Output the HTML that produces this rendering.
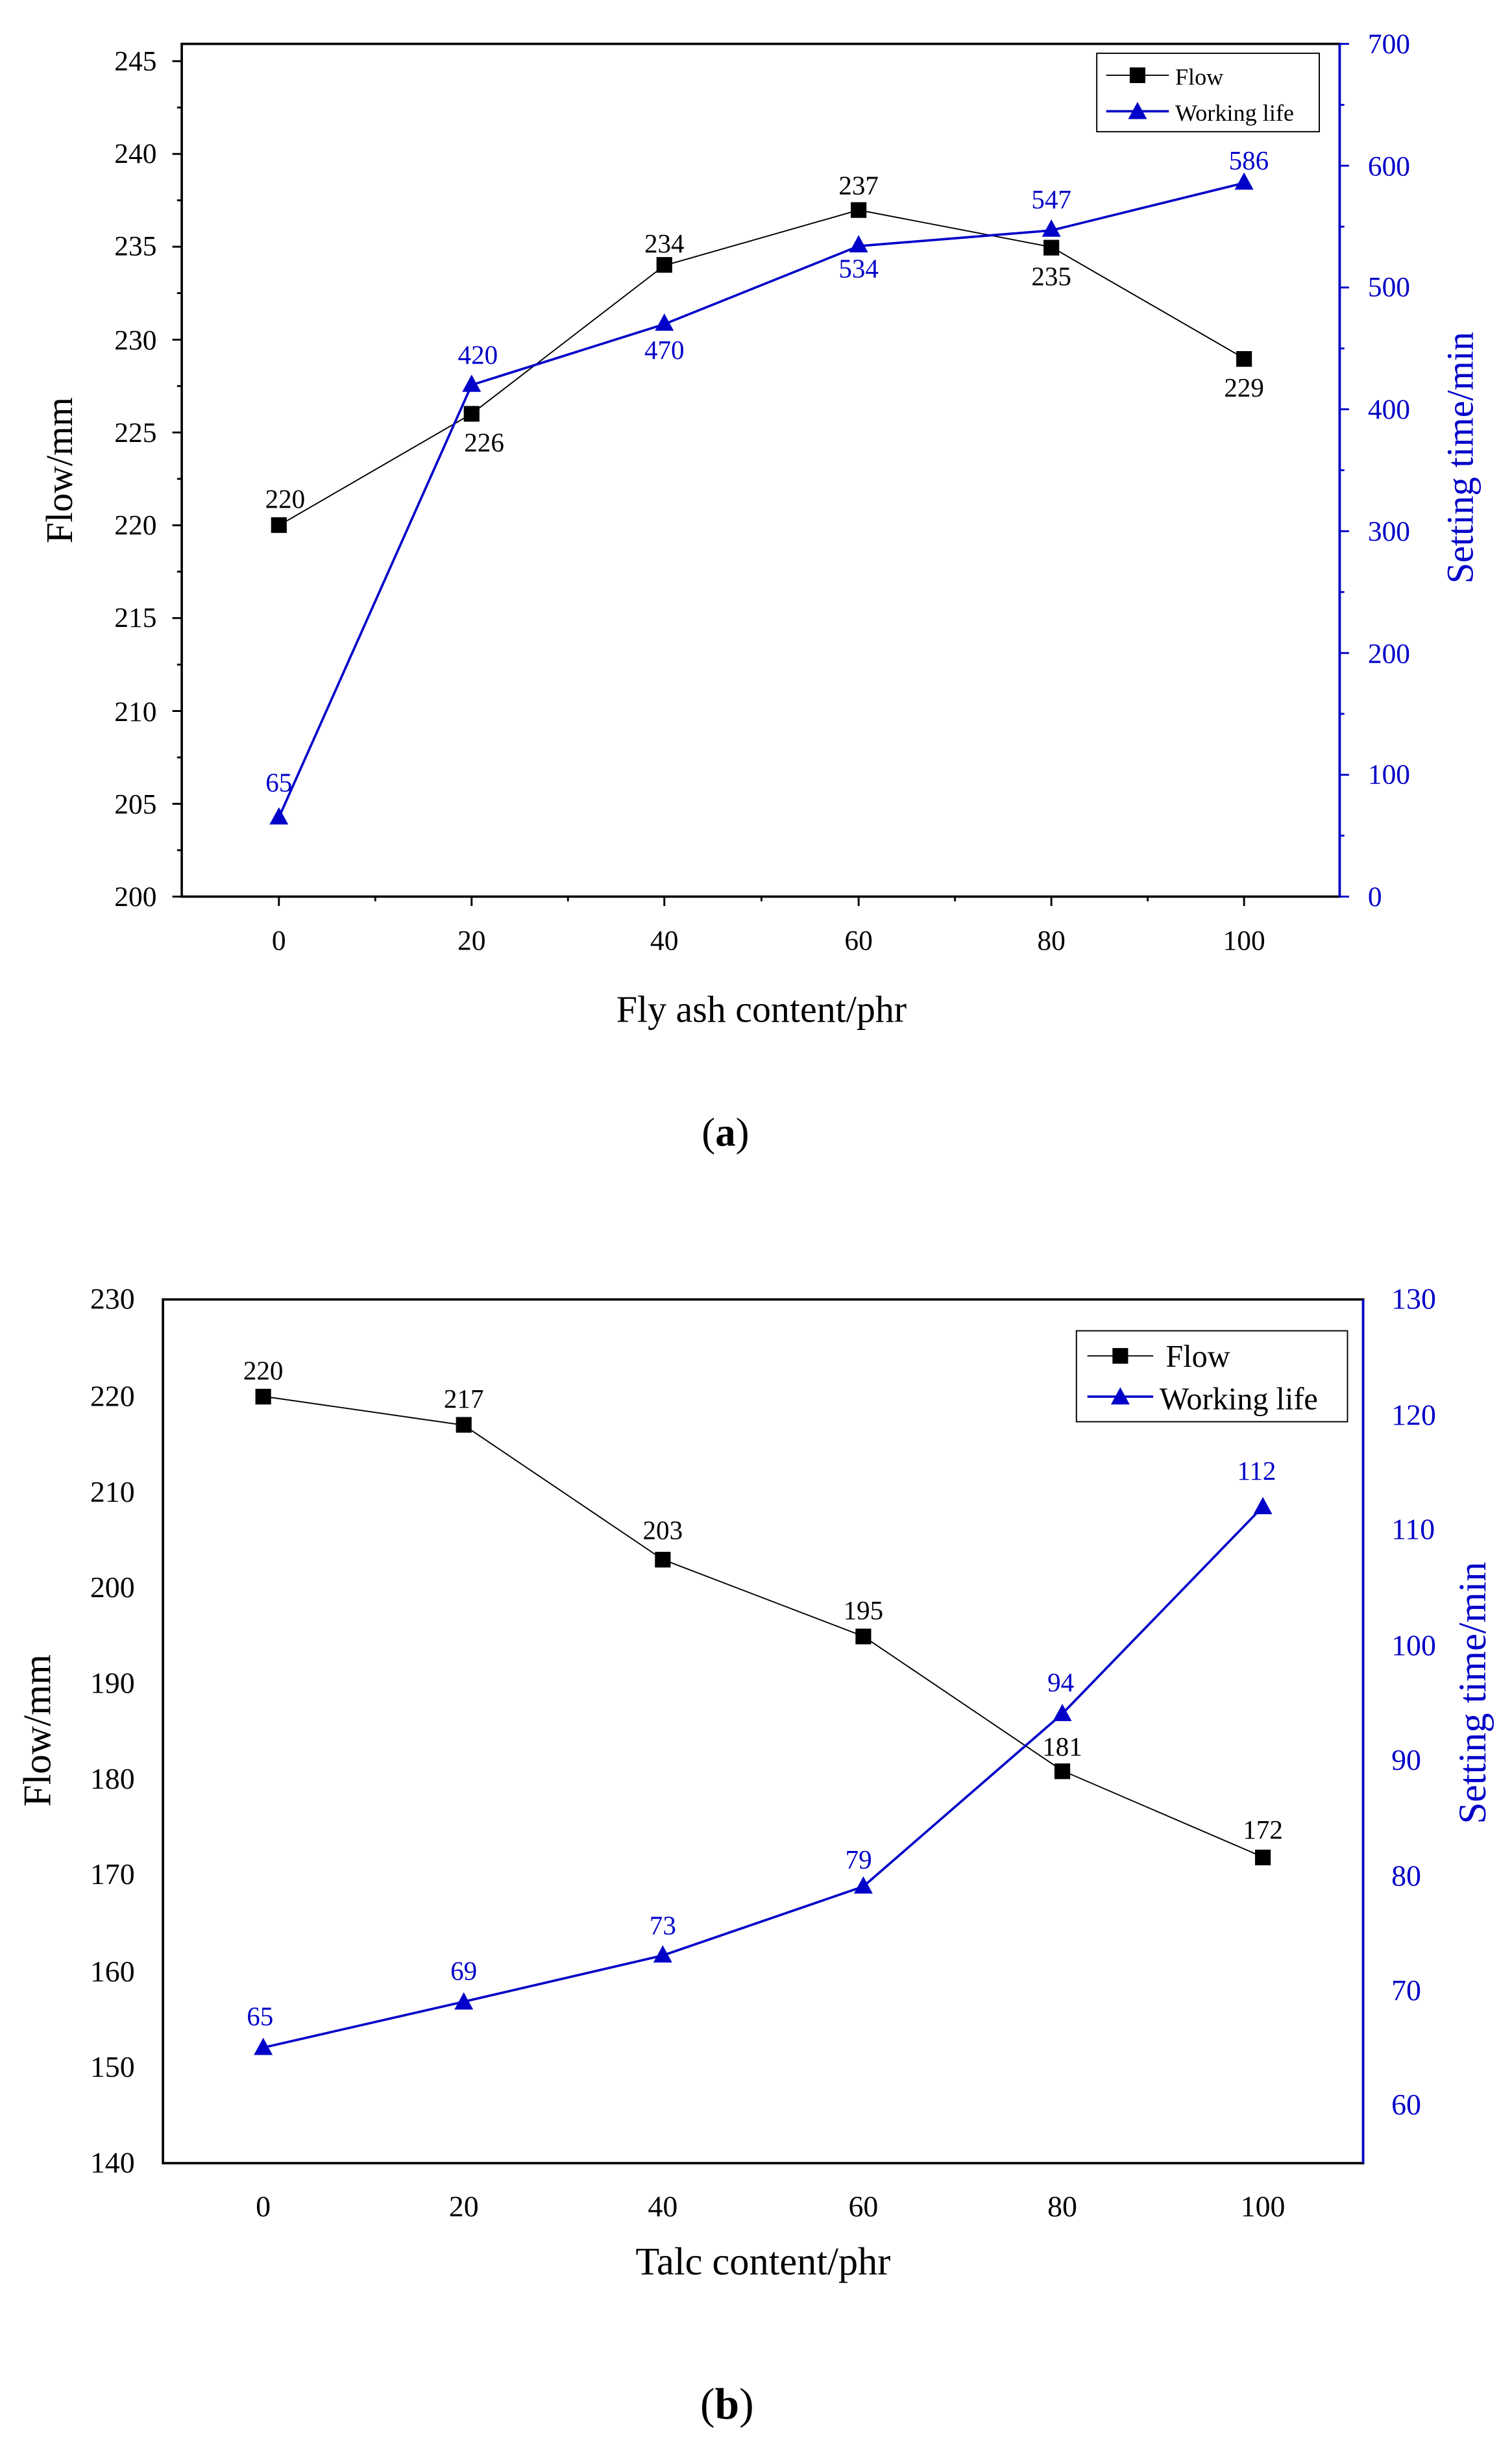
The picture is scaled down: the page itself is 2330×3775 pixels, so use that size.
<!DOCTYPE html>
<html><head><style>html,body{margin:0;padding:0;background:#fff}svg{display:block}</style></head>
<body>
<svg width="2330" height="3775" viewBox="0 0 965 1563" preserveAspectRatio="none" xmlns="http://www.w3.org/2000/svg" font-family="Liberation Serif, serif">
<rect width="965" height="1563" fill="#fff"/>
<!-- Chart A -->
<g>
<rect x="116" y="28" width="739" height="544" fill="none" stroke="#000" stroke-width="1.5"/>
<line x1="855" y1="28" x2="855" y2="572" stroke="#0000c8" stroke-width="1.5"/>
<g stroke="#000" stroke-width="1.2">
<line x1="110" y1="572" x2="116" y2="572"/><line x1="110" y1="512.8" x2="116" y2="512.8"/><line x1="110" y1="453.6" x2="116" y2="453.6"/><line x1="110" y1="394.3" x2="116" y2="394.3"/><line x1="110" y1="335.1" x2="116" y2="335.1"/><line x1="110" y1="275.9" x2="116" y2="275.9"/><line x1="110" y1="216.7" x2="116" y2="216.7"/><line x1="110" y1="157.4" x2="116" y2="157.4"/><line x1="110" y1="98.2" x2="116" y2="98.2"/><line x1="110" y1="39" x2="116" y2="39"/>
<line x1="113" y1="542.4" x2="116" y2="542.4"/><line x1="113" y1="483.2" x2="116" y2="483.2"/><line x1="113" y1="424" x2="116" y2="424"/><line x1="113" y1="364.7" x2="116" y2="364.7"/><line x1="113" y1="305.5" x2="116" y2="305.5"/><line x1="113" y1="246.3" x2="116" y2="246.3"/><line x1="113" y1="187" x2="116" y2="187"/><line x1="113" y1="127.8" x2="116" y2="127.8"/><line x1="113" y1="68.6" x2="116" y2="68.6"/>
<line x1="178" y1="572" x2="178" y2="578"/><line x1="301" y1="572" x2="301" y2="578"/><line x1="424" y1="572" x2="424" y2="578"/><line x1="548" y1="572" x2="548" y2="578"/><line x1="671" y1="572" x2="671" y2="578"/><line x1="794" y1="572" x2="794" y2="578"/>
<line x1="239.5" y1="572" x2="239.5" y2="575"/><line x1="362.5" y1="572" x2="362.5" y2="575"/><line x1="486" y1="572" x2="486" y2="575"/><line x1="609.5" y1="572" x2="609.5" y2="575"/><line x1="732.5" y1="572" x2="732.5" y2="575"/>
</g>
<g stroke="#0000c8" stroke-width="1.2">
<line x1="855" y1="572" x2="861" y2="572"/><line x1="855" y1="494.3" x2="861" y2="494.3"/><line x1="855" y1="416.6" x2="861" y2="416.6"/><line x1="855" y1="338.9" x2="861" y2="338.9"/><line x1="855" y1="261.1" x2="861" y2="261.1"/><line x1="855" y1="183.4" x2="861" y2="183.4"/><line x1="855" y1="105.7" x2="861" y2="105.7"/><line x1="855" y1="28" x2="861" y2="28"/>
<line x1="855" y1="533.1" x2="858" y2="533.1"/><line x1="855" y1="455.4" x2="858" y2="455.4"/><line x1="855" y1="377.7" x2="858" y2="377.7"/><line x1="855" y1="300" x2="858" y2="300"/><line x1="855" y1="222.3" x2="858" y2="222.3"/><line x1="855" y1="144.6" x2="858" y2="144.6"/><line x1="855" y1="66.9" x2="858" y2="66.9"/>
</g>
<g font-size="18" text-anchor="end" fill="#000">
<text x="100" y="578">200</text><text x="100" y="519">205</text><text x="100" y="460">210</text><text x="100" y="400">215</text><text x="100" y="341">220</text><text x="100" y="282">225</text><text x="100" y="223">230</text><text x="100" y="163">235</text><text x="100" y="104">240</text><text x="100" y="45">245</text>
</g>
<g font-size="18" text-anchor="start" fill="#0000c8">
<text x="873" y="578">0</text><text x="873" y="500">100</text><text x="873" y="423">200</text><text x="873" y="345">300</text><text x="873" y="267">400</text><text x="873" y="189">500</text><text x="873" y="112">600</text><text x="873" y="34">700</text>
</g>
<g font-size="18" text-anchor="middle">
<text x="178" y="606">0</text><text x="301" y="606">20</text><text x="424" y="606">40</text><text x="548" y="606">60</text><text x="671" y="606">80</text><text x="794" y="606">100</text>
</g>
<text x="486" y="652" font-size="24" text-anchor="middle">Fly ash content/phr</text>
<text transform="translate(46,300) rotate(-90)" font-size="24" text-anchor="middle">Flow/mm</text>
<text transform="translate(940,292) rotate(-90)" font-size="24" text-anchor="middle" fill="#0000c8">Setting time/min</text>
<polyline points="178,335.2 301,264 424,169.4 548,134 671,157.6 794,228.6" fill="none" stroke="#000" stroke-width="0.8"/>
<polyline points="178,521.5 301,245.6 424,206.8 548,157 671,147 794,116.7" fill="none" stroke="#0000c8" stroke-width="1.5"/>
<g fill="#000"><rect x="173" y="330" width="10" height="10"/><rect x="296" y="259" width="10" height="10"/><rect x="419" y="164" width="10" height="10"/><rect x="543" y="129" width="10" height="10"/><rect x="666" y="153" width="10" height="10"/><rect x="789" y="224" width="10" height="10"/></g>
<g fill="#0000c8"><polygon points="178,515 172,526 184,526"/><polygon points="301,239 295,250 307,250"/><polygon points="424,200 418,211 430,211"/><polygon points="548,150 542,161 554,161"/><polygon points="671,140 665,151 677,151"/><polygon points="794,110 788,121 800,121"/></g>
<g font-size="17" text-anchor="middle" fill="#000"><text x="182" y="324">220</text><text x="309" y="288">226</text><text x="424" y="161">234</text><text x="548" y="124">237</text><text x="671" y="182">235</text><text x="794" y="253">229</text></g>
<g font-size="17" text-anchor="middle" fill="#0000c8"><text x="178" y="505">65</text><text x="305" y="232">420</text><text x="424" y="229">470</text><text x="548" y="177">534</text><text x="671" y="133">547</text><text x="797" y="108">586</text></g>
<rect x="700" y="34" width="142" height="50" fill="#fff" stroke="#000" stroke-width="0.8"/>
<line x1="706" y1="48" x2="746" y2="48" stroke="#000" stroke-width="0.8"/><rect x="721" y="43" width="10" height="10"/>
<text x="750" y="54" font-size="15">Flow</text>
<line x1="706" y1="71" x2="746" y2="71" stroke="#0000c8" stroke-width="1.5"/><polygon points="726,65 720,76 732,76" fill="#0000c8"/>
<text x="750" y="77" font-size="15">Working life</text>
<text x="463" y="731" font-size="26" text-anchor="middle">(<tspan font-weight="bold">a</tspan>)</text>
</g>
<!-- Chart B -->
<g>
<rect x="104" y="829" width="766" height="551" fill="none" stroke="#000" stroke-width="1.5"/>
<line x1="870" y1="829" x2="870" y2="1380" stroke="#0000c8" stroke-width="1.5"/>
<g font-size="19" text-anchor="end">
<text x="86" y="1386">140</text><text x="86" y="1325">150</text><text x="86" y="1264">160</text><text x="86" y="1202">170</text><text x="86" y="1141">180</text><text x="86" y="1080">190</text><text x="86" y="1019">200</text><text x="86" y="958">210</text><text x="86" y="897">220</text><text x="86" y="835">230</text>
</g>
<g font-size="19" fill="#0000c8">
<text x="888" y="1349">60</text><text x="888" y="1276">70</text><text x="888" y="1203">80</text><text x="888" y="1129">90</text><text x="888" y="1056">100</text><text x="888" y="982">110</text><text x="888" y="909">120</text><text x="888" y="835">130</text>
</g>
<g font-size="19" text-anchor="middle">
<text x="168" y="1414">0</text><text x="296" y="1414">20</text><text x="423" y="1414">40</text><text x="551" y="1414">60</text><text x="678" y="1414">80</text><text x="806" y="1414">100</text>
</g>
<text x="487" y="1451" font-size="25" text-anchor="middle">Talc content/phr</text>
<text transform="translate(32,1104) rotate(-90)" font-size="25" text-anchor="middle">Flow/mm</text>
<text transform="translate(948,1080) rotate(-90)" font-size="25" text-anchor="middle" fill="#0000c8">Setting time/min</text>
<polyline points="168,890.8 296,909.2 423,994.9 551,1043.9 678,1129.6 806,1184.7" fill="none" stroke="#000" stroke-width="0.8"/>
<polyline points="168,1306.3 296,1277 423,1247.5 551,1203.5 678,1093.3 806,961.2" fill="none" stroke="#0000c8" stroke-width="1.5"/>
<g><rect x="163" y="886" width="10" height="10"/><rect x="291" y="904" width="10" height="10"/><rect x="418" y="990" width="10" height="10"/><rect x="546" y="1039" width="10" height="10"/><rect x="673" y="1125" width="10" height="10"/><rect x="801" y="1180" width="10" height="10"/></g>
<g fill="#0000c8"><polygon points="168,1300 162,1311 174,1311"/><polygon points="296,1271 290,1282 302,1282"/><polygon points="423,1241 417,1252 429,1252"/><polygon points="551,1197 545,1208 557,1208"/><polygon points="678,1087 672,1098 684,1098"/><polygon points="806,955 800,966 812,966"/></g>
<g font-size="17" text-anchor="middle"><text x="168" y="880">220</text><text x="296" y="898">217</text><text x="423" y="982">203</text><text x="551" y="1033">195</text><text x="678" y="1120">181</text><text x="806" y="1173">172</text></g>
<g font-size="17" text-anchor="middle" fill="#0000c8"><text x="166" y="1292">65</text><text x="296" y="1263">69</text><text x="423" y="1234">73</text><text x="548" y="1192">79</text><text x="677" y="1079">94</text><text x="802" y="944">112</text></g>
<rect x="687" y="849" width="173" height="58" fill="#fff" stroke="#000" stroke-width="0.8"/>
<line x1="694" y1="865" x2="736" y2="865" stroke="#000" stroke-width="0.8"/><rect x="710" y="860" width="10" height="10"/>
<text x="744" y="872" font-size="20">Flow</text>
<line x1="694" y1="891" x2="736" y2="891" stroke="#0000c8" stroke-width="1.5"/><polygon points="715,885 709,896 721,896" fill="#0000c8"/>
<text x="740" y="899" font-size="20">Working life</text>
<text x="464" y="1543" font-size="28" text-anchor="middle">(<tspan font-weight="bold">b</tspan>)</text>
</g>
</svg>
</body></html>
